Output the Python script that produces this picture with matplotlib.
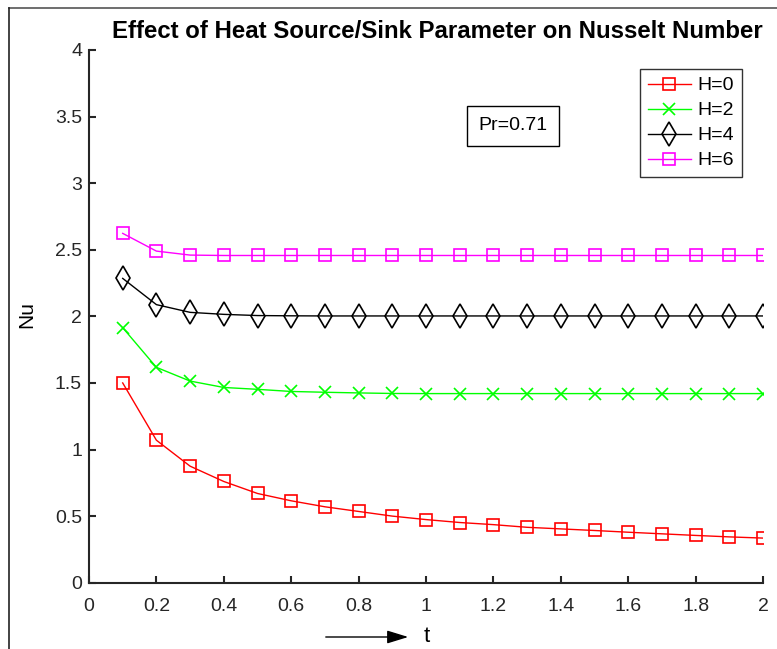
import matplotlib
matplotlib.use("Agg")
import matplotlib.pyplot as plt
from matplotlib.lines import Line2D

plt.rcParams['font.family'] = ['Liberation Sans', 'DejaVu Sans']

# Datos
t = [0.1, 0.2, 0.3, 0.4, 0.5, 0.6, 0.7, 0.8, 0.9, 1.0,
     1.1, 1.2, 1.3, 1.4, 1.5, 1.6, 1.7, 1.8, 1.9, 2.0]
nu_h0 = [1.50, 1.07, 0.875, 0.76, 0.67, 0.615, 0.57, 0.535, 0.50, 0.474,
         0.452, 0.436, 0.416, 0.404, 0.392, 0.379, 0.367, 0.355, 0.344, 0.335]
nu_h2 = [1.915, 1.617, 1.514, 1.466, 1.452, 1.436, 1.430, 1.425, 1.421, 1.420,
         1.420, 1.420, 1.420, 1.420, 1.420, 1.420, 1.420, 1.420, 1.420, 1.420]
nu_h4 = [2.285, 2.088, 2.03, 2.015, 2.006, 2.004, 2.003, 2.003, 2.003, 2.003,
         2.003, 2.003, 2.003, 2.003, 2.003, 2.003, 2.003, 2.003, 2.003, 2.003]
nu_h6 = [2.623, 2.49, 2.46, 2.457, 2.457, 2.457, 2.457, 2.457, 2.457, 2.457,
         2.457, 2.457, 2.457, 2.457, 2.457, 2.457, 2.457, 2.457, 2.457, 2.457]
etiquetas = ["H=0", "H=2", "H=4", "H=6"]
xticks = [0, 0.2, 0.4, 0.6, 0.8, 1.0, 1.2, 1.4, 1.6, 1.8, 2.0]
xtick_labels = ["0", "0.2", "0.4", "0.6", "0.8", "1", "1.2", "1.4", "1.6", "1.8", "2"]
yticks = [0, 0.5, 1, 1.5, 2, 2.5, 3, 3.5, 4]
ytick_labels = ["0", "0.5", "1", "1.5", "2", "2.5", "3", "3.5", "4"]

fig = plt.figure(figsize=(7.77, 6.49), dpi=100)
ax = fig.add_axes([89 / 777, 1 - 582.7 / 649, (763 - 89) / 777, (582.7 - 50) / 649])

ax.plot(t, nu_h0, color=(1, 0, 0), marker='s', ms=8, mfc='none', mew=1.2, lw=1, label=etiquetas[0])
ax.plot(t, nu_h2, color=(0, 1, 0), marker='x', ms=9, mew=1.2, lw=1, label=etiquetas[1])
ax.plot(t, nu_h4, color='black', marker='d', ms=12, mfc='none', mew=1.2, lw=1, label=etiquetas[2])
ax.plot(t, nu_h6, color=(1, 0, 1), marker='s', ms=8, mfc='none', mew=1.2, lw=1, label=etiquetas[3])

ax.set_xlim(0, 2)
ax.set_ylim(0, 4)
ax.set_xticks(xticks)
ax.set_xticklabels(xtick_labels)
ax.set_yticks(yticks)
ax.set_yticklabels(ytick_labels)
ax.spines['top'].set_visible(False)
ax.spines['right'].set_visible(False)
for s in ['left', 'bottom']:
    ax.spines[s].set_linewidth(1.5)
    ax.spines[s].set_color('#262626')
ax.tick_params(axis='both', direction='in', length=5, width=1.5, color='#262626',
               labelsize=14, labelcolor='#262626')
ax.tick_params(axis='x', pad=11)
ax.tick_params(axis='y', pad=5)

# Titulo y etiquetas
fig.text(437 / 777, 1 - 31 / 649, "Effect of Heat Source/Sink Parameter on Nusselt Number",
         ha='center', va='center', fontsize=17.3, fontweight='bold')
fig.text(27 / 777, 1 - 315 / 649, "Nu", rotation=90, ha='center', va='center', fontsize=15)
fig.text(427 / 777, 1 - 636 / 649, "t", ha='center', va='center', fontsize=16)
fig.add_artist(plt.Annotation("", xy=(411 / 777, 1 - 637 / 649), xytext=(323 / 777, 1 - 637 / 649),
                              xycoords='figure fraction', textcoords='figure fraction',
                              arrowprops=dict(arrowstyle='-|>,head_length=1.3,head_width=0.4',
                                              color='black', lw=1)))

ax.text(1.258, 3.43, "Pr=0.71", ha='center', va='center', fontsize=14,
        bbox=dict(boxstyle='square,pad=0.6', fc='white', ec='black', lw=1))

leg = ax.legend(loc='upper right', bbox_to_anchor=(742 / 777, 1 - 69 / 649),
                bbox_transform=fig.transFigure, fontsize=14, fancybox=False,
                edgecolor='black', handlelength=2.2, borderpad=0.4, labelspacing=0.38,
                handletextpad=0.35, borderaxespad=0)
leg.get_frame().set_linewidth(1)

# Borde de la figura
fig.add_artist(Line2D([9 / 777, 1], [1 - 8 / 649, 1 - 8 / 649], transform=fig.transFigure,
                      color='#555555', lw=1.2))
fig.add_artist(Line2D([9 / 777, 9 / 777], [0, 1 - 8 / 649], transform=fig.transFigure,
                      color='#222222', lw=1.2))

fig.savefig("out.png", dpi=100)
